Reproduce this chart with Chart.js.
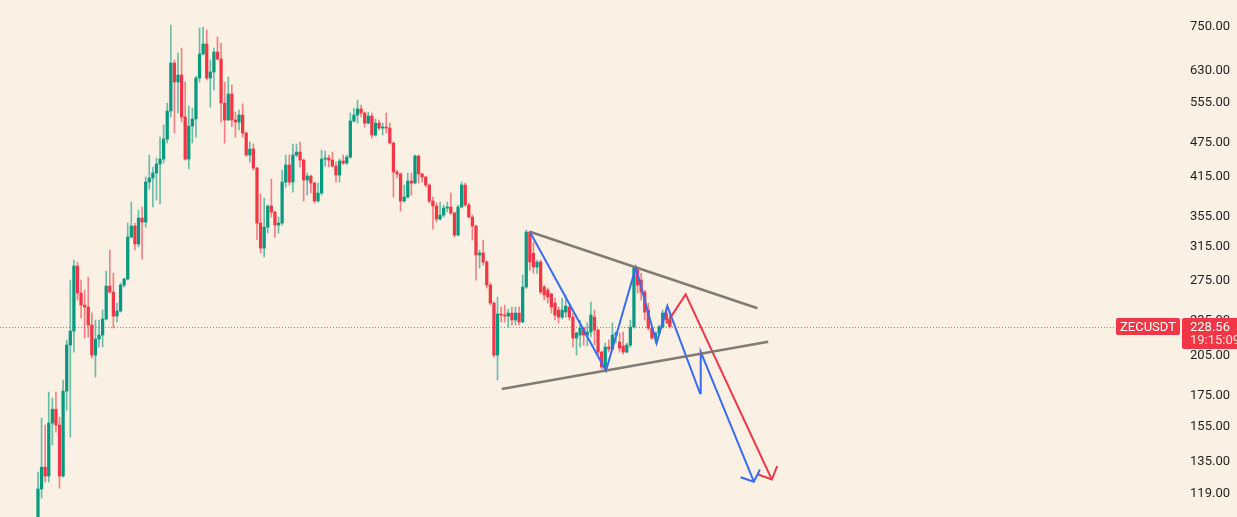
<!DOCTYPE html>
<html><head><meta charset="utf-8">
<script src="https://cdn.jsdelivr.net/npm/chart.js@4/dist/chart.umd.min.js"></script>
<style>html,body{margin:0;padding:0;background:#FAF1E4;overflow:hidden}#wrap{width:1237px;height:517px;position:relative}canvas{display:block}</style>
</head><body><div id="wrap"><canvas id="c" width="1237" height="517" style="width:1237px;height:517px"></canvas></div>
<script>
const symbol = 'ZECUSDT';
const lastTime = '19:15:09';
const opens = [104.6,120.5,131.3,126.8,156.2,165.0,155.0,126.8,177.2,212.5,224.5,290.1,260.8,248.7,246.8,229.9,204.2,217.5,221.0,235.4,268.1,261.8,238.2,242.9,269.1,275.6,325.2,339.6,316.4,350.5,345.0,403.9,410.4,418.5,433.6,442.2,478.5,534.4,645.6,599.1,615.8,521.9,442.2,503.6,517.8,608.6,669.0,695.8,608.6,623.2,674.3,655.9,551.4,515.7,571.4,515.7,511.6,526.0,490.0,449.3,460.0,426.8,343.6,311.4,338.2,367.5,358.9,340.9,343.6,403.9,431.9,403.9,449.3,454.6,440.5,407.1,413.5,402.3,374.8,386.8,442.2,444.0,440.5,430.2,415.2,438.8,435.3,445.7,513.7,526.0,538.6,530.2,509.6,524.0,486.1,509.6,499.7,501.7,499.7,471.0,420.2,416.9,374.8,380.7,405.5,402.3,447.5,416.9,412.0,399.2,374.8,367.5,349.1,354.6,364.6,366.1,357.4,327.8,366.1,399.2,369.0,351.9,339.6,303.0,305.4,294.7,269.1,250.7,204.2,240.1,239.1,238.2,241.0,234.5,241.0,232.7,267.0,331.7,305.0,288.9,294.7,267.0,263.9,259.8,250.7,243.9,237.2,242.0,246.8,237.2,218.4,221.0,227.2,221.0,223.6,237.2,225.4,206.7,194.8,210.8,209.1,221.0,215.0,211.7,206.7,212.5,228.1,285.5,274.5,261.8,243.9,227.2,218.4,222.8,228.1,241.0,234.5];
const highs = [128.8,159.3,155.0,176.5,172.4,176.5,159.9,185.1,216.7,274.5,297.0,294.7,274.5,263.9,277.7,241.0,234.5,234.5,243.9,284.4,309.0,282.1,250.7,271.3,276.7,343.6,373.3,343.6,361.7,366.1,412.0,449.3,428.5,444.0,482.3,505.6,551.4,750.0,653.3,671.6,685.0,599.1,545.0,540.7,613.4,741.2,744.1,735.4,653.3,685.0,715.4,698.6,599.1,611.0,592.0,532.3,536.5,549.3,492.0,472.9,469.2,428.0,385.3,379.2,369.0,408.7,360.3,351.9,423.5,449.3,449.3,469.2,469.2,472.9,442.0,418.5,415.2,403.9,402.3,458.2,456.4,449.3,454.6,437.0,442.2,449.3,449.3,530.2,540.7,558.0,547.1,532.3,532.3,530.2,517.8,515.7,509.6,530.2,509.6,473.0,423.5,418.5,399.2,418.5,418.5,449.3,449.3,418.5,413.5,401.0,380.7,371.9,373.3,369.0,373.3,386.8,358.9,369.0,403.9,402.3,371.9,354.6,341.0,309.0,321.4,296.0,271.3,252.0,256.7,246.8,248.7,244.9,246.8,246.8,246.8,279.9,334.3,333.0,318.9,297.0,297.0,269.1,266.0,260.8,255.7,246.8,255.7,258.8,247.8,241.0,223.6,234.5,228.1,231.8,251.7,243.9,226.5,207.5,214.2,216.7,231.8,224.0,222.8,223.6,214.2,234.5,288.9,287.8,281.9,263.9,250.7,228.1,223.6,229.9,243.9,245.8,239.1];
const lows = [102.6,116.3,123.8,123.8,143.3,150.8,120.9,126.3,164.4,147.9,206.7,253.7,236.3,218.4,219.3,201.8,187.3,210.8,210.8,234.5,260.8,227.2,232.7,242.0,267.0,274.5,323.9,309.0,312.7,298.2,338.2,392.9,366.1,376.3,370.4,435.3,471.0,521.9,490.0,530.2,511.6,440.5,425.2,471.0,482.3,599.1,666.3,603.8,542.8,580.5,653.3,511.6,471.0,515.7,501.7,482.3,495.8,482.3,447.0,437.0,423.5,321.4,305.4,300.6,330.4,351.9,325.2,330.4,340.9,396.0,399.2,388.3,445.7,428.5,374.8,383.7,386.8,371.9,373.3,383.7,430.2,428.5,428.5,403.9,403.9,433.0,433.0,444.0,511.6,509.6,521.9,501.7,507.6,480.4,484.0,495.8,486.1,490.0,469.2,380.7,410.4,360.3,373.3,379.2,383.7,401.0,402.3,403.9,396.0,371.9,335.6,345.0,347.5,351.9,358.9,356.0,325.2,326.5,364.6,367.5,350.5,321.4,274.5,287.8,291.2,266.0,248.7,202.6,185.1,232.7,232.7,228.1,229.9,229.9,229.9,231.8,265.5,285.5,281.9,281.9,260.0,253.7,250.7,241.0,234.5,231.8,235.5,237.2,234.5,210.8,204.2,210.8,212.5,211.7,219.3,212.5,204.2,193.3,193.3,206.7,208.3,214.2,206.7,205.1,205.9,210.8,227.2,260.8,253.7,234.5,225.4,217.5,214.2,221.0,227.2,231.8,227.2];
const closes = [120.5,131.3,126.8,156.2,165.0,155.0,126.8,177.2,212.5,224.5,290.1,260.8,248.7,246.8,229.9,204.2,217.5,221.0,235.4,268.1,261.8,238.2,242.9,269.1,275.6,325.2,339.6,316.4,350.5,345.0,403.9,410.4,418.5,433.6,442.2,478.5,534.4,645.6,599.1,615.8,521.9,442.2,503.6,517.8,608.6,669.0,695.8,608.6,623.2,674.3,655.9,551.4,515.7,571.4,515.7,511.6,526.0,490.0,449.3,460.0,426.8,343.6,311.4,338.2,367.5,358.9,340.9,343.6,403.9,431.9,403.9,449.3,454.6,440.5,407.1,413.5,402.3,374.8,386.8,442.2,444.0,440.5,430.2,415.2,438.8,435.3,445.7,513.7,526.0,538.6,530.2,509.6,524.0,486.1,509.6,499.7,501.7,499.7,471.0,420.2,416.9,374.8,380.7,405.5,402.3,447.5,416.9,412.0,399.2,374.8,367.5,349.1,354.6,364.6,366.1,357.4,327.8,366.1,399.2,369.0,351.9,339.6,303.0,305.4,294.7,269.1,250.7,204.2,240.1,239.1,238.2,241.0,234.5,241.0,232.7,267.0,331.7,294.7,288.9,294.7,261.8,258.8,256.7,246.8,239.1,237.2,243.9,247.8,237.2,218.4,222.8,227.2,221.0,223.6,239.1,225.4,206.7,194.8,210.8,209.1,221.0,222.8,209.9,206.7,212.5,228.1,287.8,269.1,261.8,242.0,227.2,218.4,222.8,228.1,241.0,234.5,228.56];
const yTicks = [119,135,155,175,205,235,275,315,355,415,475,555,630,750];
const upperTrend = [[137.0,332.1],[200.4,245.6]];
const lowerTrend = [[129.2,178.7],[203.4,215.3]];
const bluePath = [[137.0,332.1],[158.2,192.0],[166.5,288.6],[172.3,213.9],[175.3,247.8],[184.4,175.7],[184.6,206.9],[199.4,124.0]];
const blueArrow = [[195.7,126.2],[199.4,124.0],[201.1,130.1]];
const redPath = [[175.1,231.4],[180.4,259.4],[204.4,125.1]];
const redArrow = [[200.6,127.6],[204.4,125.1],[205.9,131.8]];

const UP = '#089981', DOWN = '#F23645';
const UPW = 'rgba(8,153,129,0.6)', DOWNW = 'rgba(242,54,69,0.6)';
const isUp = i => closes[i] >= opens[i];
const pts = a => a.map(p => ({x: p[0], y: p[1]}));
const lastPrice = closes[closes.length - 1];

const lineDs = (data, color, w) => ({type:'line', data: pts(data), borderColor: color, borderWidth: w, pointRadius: 0, tension: 0, fill: false, order: 0});

const overlay = {
  id: 'overlay',
  beforeDraw(chart) {
    const c = chart.ctx; c.save(); c.fillStyle = '#FAF1E4'; c.fillRect(0, 0, chart.width, chart.height); c.restore();
  },
  beforeDatasetsDraw(chart) {
    const c = chart.ctx, y = Math.round(chart.scales.y.getPixelForValue(lastPrice)) + 0.5;
    c.save(); c.strokeStyle = 'rgba(242,54,69,0.8)'; c.lineWidth = 1; c.setLineDash([1, 2]);
    c.beginPath(); c.moveTo(0, y); c.lineTo(1116, y); c.stroke(); c.restore();
  },
  afterDraw(chart) {
    const c = chart.ctx, y = chart.scales.y.getPixelForValue(lastPrice);
    c.save();
    c.fillStyle = '#F23645';
    c.beginPath(); c.roundRect(1116, y - 8.5, 64, 17, 2); c.fill();
    c.beginPath(); c.roundRect(1182, y - 8.5, 60, 31, 2); c.fill();
    c.fillStyle = '#FFFFFF'; c.textBaseline = 'middle';
    c.font = '13px Roboto'; c.textAlign = 'center';
    c.fillText(symbol, 1148, y + 1);
    c.textAlign = 'left';
    c.fillText(lastPrice.toFixed(2), 1190, y + 1);
    c.fillStyle = 'rgba(255,255,255,0.85)';
    c.fillText(lastTime, 1190, y + 14);
    c.restore();
  }
};

new Chart(document.getElementById('c'), {
  type: 'bar',
  data: {
    datasets: [
      lineDs(upperTrend, 'rgba(122,116,110,0.95)', 2.5),
      lineDs(lowerTrend, 'rgba(122,116,110,0.95)', 2.5),
      lineDs(bluePath, '#3A6CF2', 2),
      lineDs(blueArrow, '#3A6CF2', 2),
      lineDs(redPath, '#F0394A', 2),
      lineDs(redArrow, '#F0394A', 2),
      {
        data: opens.map((o, i) => ({x: i, y: [o, closes[i]]})),
        backgroundColor: ctx => isUp(ctx.dataIndex) ? UP : DOWN,
        barThickness: 2.6, minBarLength: 1, grouped: false, order: 2, borderWidth: 0
      },
      {
        data: lows.map((l, i) => ({x: i, y: [l, highs[i]]})),
        backgroundColor: ctx => isUp(ctx.dataIndex) ? UPW : DOWNW,
        barThickness: 1, grouped: false, order: 3, borderWidth: 0
      }
    ]
  },
  options: {
    responsive: false, animation: false, devicePixelRatio: 1,
    layout: {padding: {left: 0, right: 7, top: 0, bottom: 0}},
    plugins: {legend: {display: false}, tooltip: {enabled: false}},
    scales: {
      x: {type: 'linear', display: false, offset: false, min: -10.58, max: 316.7},
      y: {
        type: 'logarithmic', position: 'right', min: 107.9, max: 827.7,
        grid: {display: false}, border: {display: false},
        afterBuildTicks: s => { s.ticks = yTicks.map(v => ({value: v})); },
        afterFit: s => { s.width = 55; s.paddingTop = 0; s.paddingBottom = 0; },
        ticks: {autoSkip: false, crossAlign: 'far', padding: 0, labelOffset: 1.5, color: '#1f1f1f',
          font: {family: 'Roboto', size: 13}, callback: v => Number(v).toFixed(2)}
      }
    }
  },
  plugins: [overlay]
});
</script>
</body></html>
